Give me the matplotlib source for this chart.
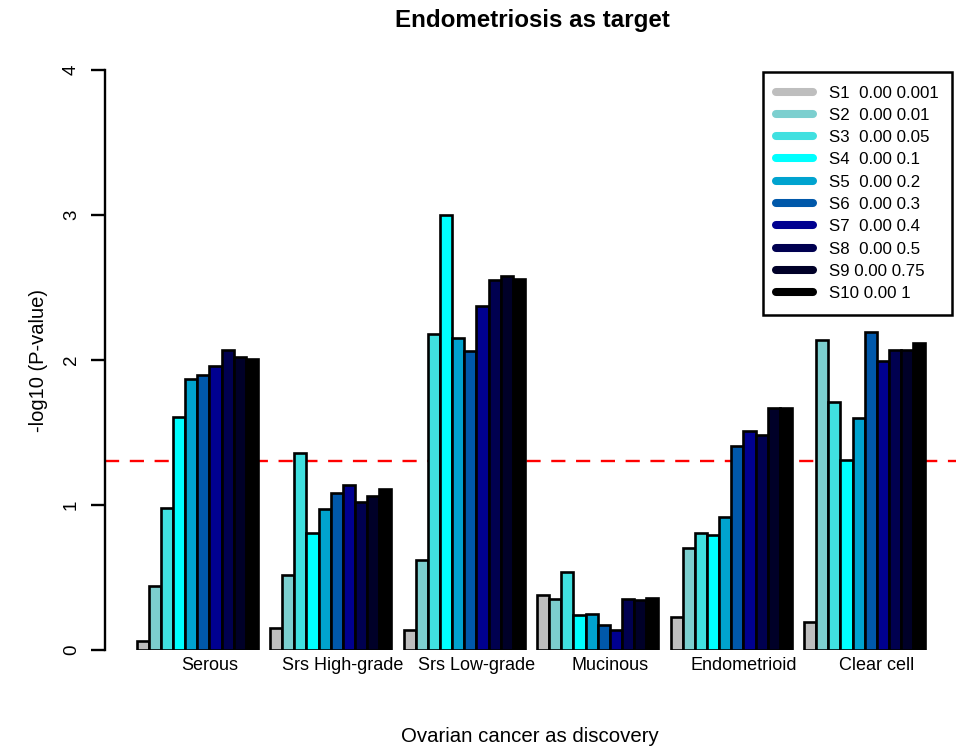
import numpy as np
import matplotlib.pyplot as plt
from matplotlib.lines import Line2D

plt.rcParams['font.family'] = ['Liberation Sans', 'DejaVu Sans']

# -log10(P) per setting S1..S10, one list per ovarian cancer subtype
groups = ['Serous', 'Srs High-grade', 'Srs Low-grade', 'Mucinous', 'Endometrioid', 'Clear cell']
serous = [0.06, 0.44, 0.98, 1.61, 1.87, 1.90, 1.96, 2.07, 2.02, 2.01]
srs_high = [0.15, 0.52, 1.36, 0.81, 0.97, 1.08, 1.14, 1.02, 1.06, 1.11]
srs_low = [0.14, 0.62, 2.18, 3.00, 2.15, 2.06, 2.37, 2.55, 2.58, 2.56]
mucinous = [0.38, 0.35, 0.54, 0.24, 0.25, 0.17, 0.14, 0.35, 0.345, 0.36]
endometrioid = [0.225, 0.705, 0.81, 0.79, 0.92, 1.41, 1.51, 1.48, 1.67, 1.67]
clear_cell = [0.19, 2.14, 1.71, 1.31, 1.60, 2.19, 1.99, 2.07, 2.07, 2.12]
values = [serous, srs_high, srs_low, mucinous, endometrioid, clear_cell]

settings = ['S1  0.00 0.001', 'S2  0.00 0.01', 'S3  0.00 0.05', 'S4  0.00 0.1',
            'S5  0.00 0.2', 'S6  0.00 0.3', 'S7  0.00 0.4', 'S8  0.00 0.5',
            'S9 0.00 0.75', 'S10 0.00 1']
colors = ['#bebebe', '#7ccfcf', '#40e0e0', '#00ffff', '#00a3cf',
          '#0058aa', '#000090', '#000050', '#000028', '#000000']
cutoff = -np.log10(0.05)

fig = plt.figure(figsize=(9.56, 7.56), dpi=100)
W, H = 956, 756
ax = fig.add_axes([105 / W, 1 - 650 / H, 852 / W, 580 / H])

nset = len(settings)
for g, vals in enumerate(values):
    start = 1 + g * (nset + 1)
    x = start + np.arange(nset)
    ax.bar(x, vals, width=1, align='edge', color=colors,
           edgecolor='black', linewidth=1.9, zorder=2)
    ax.text(start + nset / 2 + 1, -0.045, groups[g], ha='center', va='top',
            fontsize=13)

ax.axhline(cutoff, color='red', lw=1.7, dashes=(6, 4.5), zorder=1)

ax.set_xlim(-1.6, 68.6)
ax.set_ylim(0, 4)
for s in ['top', 'right', 'bottom']:
    ax.spines[s].set_visible(False)
ax.spines['left'].set_linewidth(1.7)
ax.set_xticks([])
ax.set_yticks([0, 1, 2, 3, 4])
ax.tick_params(axis='y', length=10, width=1.7, labelsize=13.5, pad=8)
for lbl in ax.get_yticklabels():
    lbl.set_rotation(90)
    lbl.set_va('center')

ax.set_ylabel('-log10 (P-value)', fontsize=14.5, labelpad=11)
fig.text(530 / W, 1 - 737 / H, 'Ovarian cancer as discovery', ha='center',
         va='center', fontsize=14.7)
fig.text(532 / W, 1 - 21 / H, 'Endometriosis as target', ha='center',
         va='center', fontsize=17.4, fontweight='bold')

handles = [Line2D([0], [0], color=c, lw=5.8, solid_capstyle='round') for c in colors]
leg = ax.legend(handles, settings, loc='upper right', bbox_to_anchor=(952 / W, 1 - 72 / H),
                bbox_transform=fig.transFigure, borderaxespad=0, fontsize=12.2,
                handlelength=2.2, handletextpad=0.9, labelspacing=0.43,
                fancybox=False, framealpha=1, borderpad=0.8)
leg.get_frame().set_edgecolor('black')
leg.get_frame().set_linewidth(1.8)

fig.savefig('out.png', dpi=100)
